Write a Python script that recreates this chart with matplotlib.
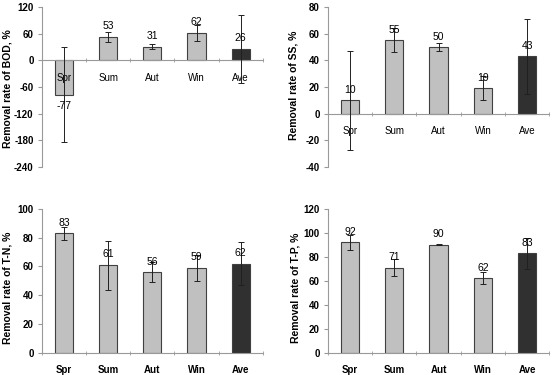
import numpy as np
import matplotlib
import matplotlib.pyplot as plt

matplotlib.rcParams['font.family'] = ['Liberation Sans', 'DejaVu Sans']
matplotlib.rcParams['font.size'] = 7

# data
seasons = ['Spr', 'Sum', 'Aut', 'Win', 'Ave']

bod = [-77, 53, 31, 62, 26]
bod_err = [108, 12, 6, 18, 77]

ss = [10, 55, 50, 19, 43]
ss_err = [37, 9, 3, 9, 28]

tn = [83, 61, 56, 59, 62]
tn_err = [4.5, 17, 7, 9, 15]

tp = [92, 71, 90, 62, 83]
tp_err = [6.5, 7, 0.5, 5, 13]

panels = [
    (bod, bod_err, 'Removal rate of BOD, %', (-240, 120), np.arange(-240, 121, 60),
     [0.076, 0.555, 0.400, 0.426], (-0.158, 0.49)),
    (ss, ss_err, 'Removal rate of SS, %', (-40, 80), np.arange(-40, 81, 20),
     [0.594, 0.555, 0.401, 0.426], (-0.154, 0.51)),
    (tn, tn_err, 'Removal rate of T-N, %', (0, 100), np.arange(0, 101, 20),
     [0.076, 0.059, 0.400, 0.384], (-0.158, 0.455)),
    (tp, tp_err, 'Removal rate of T-P, %', (0, 120), np.arange(0, 121, 20),
     [0.594, 0.059, 0.401, 0.384], (-0.146, 0.455)),
]

fig = plt.figure(figsize=(5.52, 3.75), dpi=100)

for vals, errs, ylabel, ylim, yticks, pos, lab_xy in panels:
    ax = fig.add_axes(pos)
    ax.set_axisbelow(False)
    x = np.arange(len(seasons))
    colors = ['#c0c0c0'] * 4 + ['#303030']
    ax.bar(x, vals, width=0.41, color=colors, edgecolor='#404040', linewidth=0.8, zorder=2)
    ax.errorbar(x, vals, yerr=errs, fmt='none', ecolor='#202020', elinewidth=0.7,
                capsize=2, capthick=0.7, zorder=3)
    for xi, v in zip(x, vals):
        if v >= 0:
            ax.annotate(str(v), (xi, v), xytext=(0, 4), textcoords='offset points',
                        ha='center', va='bottom', fontsize=7.5, zorder=4)
        else:
            ax.annotate(str(v), (xi, v), xytext=(0, -5), textcoords='offset points',
                        ha='center', va='top', fontsize=7.5, zorder=4)

    ax.set_xlim(-0.5, 4.5)
    ax.set_ylim(*ylim)
    ax.set_yticks(yticks)
    ax.set_yticklabels([str(t) for t in yticks], fontweight='bold')
    ax.set_ylabel(ylabel, fontweight='bold', fontsize=7.5, va='center')
    ax.yaxis.set_label_coords(*lab_xy)

    ax.set_xticks(x)
    ax.set_xticklabels(seasons, fontweight='bold')
    ax.set_xticks(np.arange(-0.5, 5, 1), minor=True)
    ax.tick_params(axis='x', which='major', length=0, pad=9)
    ax.tick_params(axis='x', which='minor', length=3, color='#999999', direction='inout')
    ax.tick_params(axis='y', length=3, color='#999999', pad=3)

    for s in ['top', 'right']:
        ax.spines[s].set_visible(False)
    ax.spines['left'].set_color('#999999')
    ax.spines['bottom'].set_color('#999999')
    ax.spines['left'].set_linewidth(0.8)
    ax.spines['bottom'].set_linewidth(0.8)
    if ylim[0] < 0:
        ax.spines['bottom'].set_position(('data', 0))

plt.savefig('out.png', dpi=100)
